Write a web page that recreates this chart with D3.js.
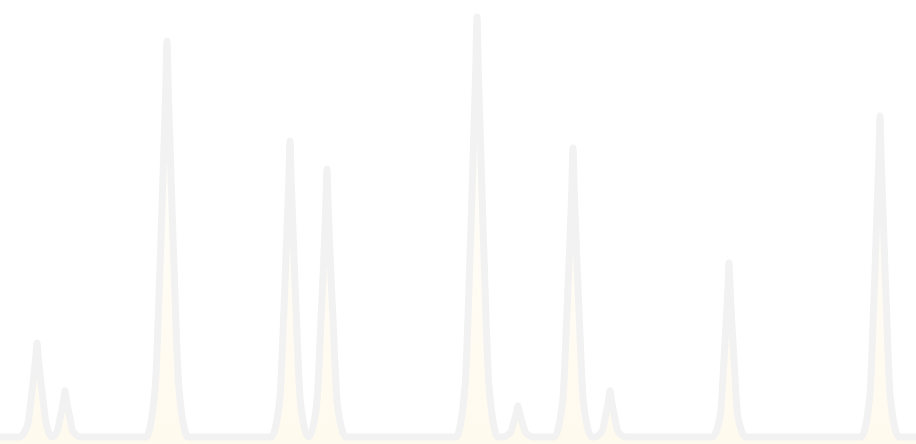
<!DOCTYPE html>
<html>
<head>
<meta charset="utf-8">
<script src="https://cdn.jsdelivr.net/npm/d3@7"></script>
<style>
  body { margin: 0; background: #fff; }
  svg { display: block; }
</style>
</head>
<body>
<div id="chart"></div>
<script>
// sample positions (0-458) and signal values (0-100)
var times = [0,
  9.5, 13.7, 15.8, 18, 18.5, 19, 21.2, 23.3, 26,
  28.5, 30.25, 32.1, 32.5, 32.9, 34.75, 36.5, 40.5,
  73, 77.5, 80.125, 82.9, 83.5, 84.1, 86.875, 89.5, 94,
  135.5, 139.8, 142.075, 144.48, 145, 145.52, 147.925, 150.2, 154.25,
  158.3, 160.575, 162.98, 163.5, 164.02, 166.425, 168.7, 173,
  228, 232.5, 235.125, 237.9, 238.5, 239.1, 241.875, 244.5, 249,
  251, 255, 256.75, 258.6, 259, 259.4, 261.25, 263, 267,
  277, 281.3, 283.575, 285.98, 286.5, 287.02, 289.425, 291.7, 296,
  297, 301, 302.75, 304.6, 305, 305.4, 307.25, 309, 313,
  356, 360.1, 362.025, 364.06, 364.5, 364.94, 366.975, 368.9, 373,
  430.5, 434.8, 437.075, 439.48, 440, 440.52, 442.925, 445.2, 449.5,
  458];
var signal = [0,
  0, 2.7, 10.1, 19.7, 22.4, 19.7, 10.1, 2.7, 0,
  1.3, 5, 9.7, 11, 9.7, 5, 1.3, 0,
  0, 11.3, 42.4, 83, 94.3, 83, 42.4, 11.3, 0,
  0, 8.5, 31.7, 62, 70.5, 62, 31.7, 8.5, 0,
  7.7, 28.7, 56.1, 63.8, 56.1, 28.7, 7.7, 0,
  0, 12, 45, 88, 100, 88, 45, 12, 0,
  0, 0.9, 3.3, 6.5, 7.4, 6.5, 3.3, 0.9, 0,
  0, 8.3, 31, 60.5, 68.8, 60.5, 31, 8.3, 0,
  0, 1.3, 5, 9.7, 11, 9.7, 5, 1.3, 0,
  0, 5, 18.6, 36.4, 41.4, 36.4, 18.6, 5, 0,
  0, 9.2, 34.4, 67.2, 76.4, 67.2, 34.4, 9.2, 0,
  0];

var width = 916;
var height = 444;

var data = times.map(function(t, i) { return { t: t, v: signal[i] }; });

var svg = d3.select("#chart").append("svg")
  .attr("width", width)
  .attr("height", height);

var x = d3.scaleLinear().domain([0, 458]).range([0, width]);
var y = d3.scaleLinear().domain([0, 100]).range([437, 17]);

//soft cream fill fading upward
var grad = svg.append("defs").append("linearGradient")
  .attr("id", "fade")
  .attr("gradientUnits", "userSpaceOnUse")
  .attr("x1", 0).attr("y1", height)
  .attr("x2", 0).attr("y2", 0);
grad.append("stop").attr("offset", "0%").attr("stop-color", "#fffaee").attr("stop-opacity", 1);
grad.append("stop").attr("offset", "100%").attr("stop-color", "#fffaee").attr("stop-opacity", 0);

var area = d3.area()
  .x(function(d) { return x(d.t); })
  .y0(height)
  .y1(function(d) { return y(d.v); })
  .curve(d3.curveMonotoneX);

var line = d3.line()
  .x(function(d) { return x(d.t); })
  .y(function(d) { return y(d.v); })
  .curve(d3.curveMonotoneX);

svg.append("path")
  .datum(data)
  .attr("d", area)
  .attr("fill", "url(#fade)");

svg.append("path")
  .datum(data)
  .attr("d", line)
  .attr("fill", "none")
  .attr("stroke", "#f2f2f2")
  .attr("stroke-width", 7)
  .attr("stroke-linejoin", "round")
  .attr("stroke-linecap", "round");
</script>
</body>
</html>
